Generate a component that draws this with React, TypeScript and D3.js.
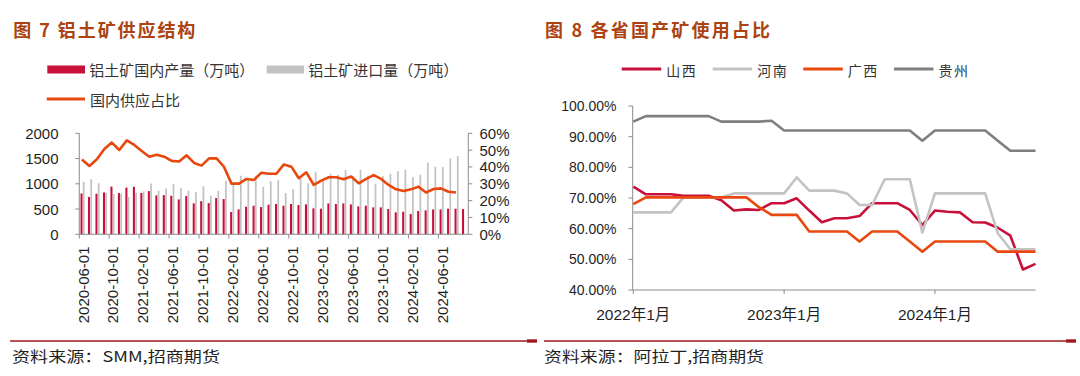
import React from 'react';
import * as d3 from 'd3';

// ---------- Left chart data (图7) ----------
const months = [
  '2020-06-01','2020-07-01','2020-08-01','2020-09-01','2020-10-01','2020-11-01','2020-12-01',
  '2021-01-01','2021-02-01','2021-03-01','2021-04-01','2021-05-01','2021-06-01','2021-07-01','2021-08-01','2021-09-01','2021-10-01','2021-11-01','2021-12-01',
  '2022-01-01','2022-02-01','2022-03-01','2022-04-01','2022-05-01','2022-06-01','2022-07-01','2022-08-01','2022-09-01','2022-10-01','2022-11-01','2022-12-01',
  '2023-01-01','2023-02-01','2023-03-01','2023-04-01','2023-05-01','2023-06-01','2023-07-01','2023-08-01','2023-09-01','2023-10-01','2023-11-01','2023-12-01',
  '2024-01-01','2024-02-01','2024-03-01','2024-04-01','2024-05-01','2024-06-01','2024-07-01','2024-08-01','2024-09-01'
];
const domesticOutput = [
  809,740,803,829,945,816,925,941,820,855,
  770,776,763,691,757,612,655,618,717,697,
  441,493,546,566,539,586,599,566,599,579,
  592,513,507,612,599,612,592,553,566,533,
  533,500,434,447,401,461,474,493,493,507,
  507,500
];
const importVolume = [
  1040,1090,1010,820,795,805,740,830,850,1005,
  865,910,1000,915,865,835,950,765,860,1060,
  1010,1160,1070,1150,940,1050,1070,815,895,1100,
  1010,1237,1090,1200,1180,1270,1150,1280,1160,1000,
  1150,1200,1250,1280,1130,1180,1420,1340,1330,1500,
  1550
];
const domesticShare = [
  44.4,40.6,44.6,50.7,54.5,50.1,55.8,53.1,49.5,46.1,
  47.3,46.1,43.6,43.2,46.9,42.4,40.8,45.1,45.1,40.0,
  30.1,30.1,32.9,32.3,36.6,36.0,36.0,41.5,40.2,33.3,
  36.8,29.3,31.9,33.9,33.9,32.7,34.3,30.3,32.9,35.2,
  32.9,29.3,26.7,25.7,26.7,28.3,24.8,26.9,27.3,25.3,
  24.8
];
const leftTickLabels = [
  '2020-06-01','2020-10-01','2021-02-01','2021-06-01','2021-10-01','2022-02-01','2022-06-01',
  '2022-10-01','2023-02-01','2023-06-01','2023-10-01','2024-02-01','2024-06-01'
];
const leftAxisTicks = [0, 500, 1000, 1500, 2000];
const rightAxisTicks = [0, 10, 20, 30, 40, 50, 60];

// ---------- Right chart data (图8) ----------
const months2 = [
  '2022-01','2022-02','2022-03','2022-04','2022-05','2022-06','2022-07','2022-08','2022-09','2022-10','2022-11','2022-12',
  '2023-01','2023-02','2023-03','2023-04','2023-05','2023-06','2023-07','2023-08','2023-09','2023-10','2023-11','2023-12',
  '2024-01','2024-02','2024-03','2024-04','2024-05','2024-06','2024-07','2024-08','2024-09'
];
const shanxi = [
  73.7,71.2,71.2,71.2,70.7,70.7,70.7,69.3,65.9,66.3,66.1,68.3,
  68.3,69.9,65.9,62.1,63.4,63.4,64.1,68.3,68.3,68.3,66.1,61.2,
  65.9,65.5,65.3,62.1,62.0,60.3,57.7,46.7,48.5
];
const henan = [
  65.3,65.3,65.3,65.3,70.2,70.2,70.2,70.2,71.5,71.5,71.5,71.5,
  71.5,76.7,72.4,72.4,72.4,71.5,67.7,67.7,76.1,76.1,76.1,58.7,
  71.5,71.5,71.5,71.5,71.5,58.5,53.3,53.3,53.3
];
const guangxi = [
  68.0,70.2,70.2,70.2,70.2,70.2,70.2,70.2,70.2,70.2,67.0,64.5,
  64.5,64.5,59.1,59.1,59.1,59.1,55.8,59.1,59.1,59.1,55.8,52.5,
  55.8,55.8,55.8,55.8,55.8,52.5,52.5,52.5,52.5
];
const guizhou = [
  94.9,96.7,96.7,96.7,96.7,96.7,96.7,94.9,94.9,94.9,94.9,95.2,
  92.0,92.0,92.0,92.0,92.0,92.0,92.0,92.0,92.0,92.0,92.0,88.7,
  92.0,92.0,92.0,92.0,92.0,88.7,85.4,85.4,85.4
];
const rightSeriesNames = ['山西', '河南', '广西', '贵州'];
const rightTickMonths = ['2022-01', '2023-01', '2024-01'];
const rightTickLabels = ['2022年1月', '2023年1月', '2024年1月'];
const rightYTicks = [40, 50, 60, 70, 80, 90, 100];

const C = {
  red: '#C8103A',
  grey: '#C3C3C3',
  orange: '#E8480E',
  dark: '#7F7F7F',
  axis: '#8C8C8C',
  title: '#AC4310',
  rule: '#9E1A1E',
  text: '#1F1F1F',
  legend: '#333333',
};

const NUM = '"Liberation Sans", Arial, "Noto Sans CJK SC", sans-serif';
const CJK = '"Noto Sans CJK SC", "Liberation Sans", sans-serif';

function LeftChart() {
  const x = d3.scaleBand<string>().domain(months).range([79.3, 468.3]).paddingInner(0).paddingOuter(0);
  const bw = x.bandwidth();
  const sub = d3.scaleBand<string>().domain(['d', 'i']).range([1.2, 5.6]).paddingInner(0.12);
  const yL = d3.scaleLinear().domain([0, 2000]).range([234.3, 133.3]);
  const yR = d3.scaleLinear().domain([0, 60]).range([234.3, 133.3]);
  const line = d3
    .line<number>()
    .x((_, i) => (x(months[i]) as number) + 2.6)
    .y((d) => yR(d));

  return (
    <g>
      {/* bars */}
      {domesticOutput.map((v, i) => (
        <rect
          key={'d' + i}
          x={(x(months[i]) as number) + (sub('d') as number)}
          width={sub.bandwidth()}
          y={yL(v)}
          height={yL(0) - yL(v)}
          fill={C.red}
        />
      ))}
      {importVolume.map((v, i) => (
        <rect
          key={'m' + i}
          x={(x(months[i]) as number) + (sub('i') as number)}
          width={sub.bandwidth() - 0.3}
          y={yL(v)}
          height={yL(0) - yL(v)}
          fill={C.grey}
        />
      ))}
      <path d={line(domesticShare) || ''} fill="none" stroke={C.orange} strokeWidth={2.6} strokeLinejoin="round" />

      {/* left axis */}
      <line x1={79.3} x2={79.3} y1={yL(2000)} y2={yL(0)} stroke={C.axis} strokeWidth={1} />
      {leftAxisTicks.map((t) => (
        <g key={'lt' + t}>
          <line x1={75.3} x2={79.3} y1={yL(t)} y2={yL(t)} stroke={C.axis} />
          <text x={58.5} y={yL(t)} textAnchor="end" dominantBaseline="central" fontFamily={NUM} fontSize={15} fill={C.text}>
            {t}
          </text>
        </g>
      ))}
      {/* right axis */}
      <line x1={468.3} x2={468.3} y1={yR(60)} y2={yR(0)} stroke={C.axis} strokeWidth={1} />
      {rightAxisTicks.map((t) => (
        <g key={'rt' + t}>
          <line x1={468.3} x2={472.3} y1={yR(t)} y2={yR(t)} stroke={C.axis} />
          <text x={479.5} y={yR(t)} dominantBaseline="central" fontFamily={NUM} fontSize={15} fill={C.text}>
            {t + '%'}
          </text>
        </g>
      ))}
      {/* x axis */}
      <line x1={79.3} x2={468.3} y1={234.3} y2={234.3} stroke={C.axis} strokeWidth={1} />
      {leftTickLabels.map((lab) => {
        const bx = x(lab) as number;
        return (
          <g key={lab}>
            <line x1={bx} x2={bx} y1={234.3} y2={238.5} stroke={C.axis} />
            <text
              transform={`translate(${bx + bw / 2},246.5) rotate(-90)`}
              textAnchor="end"
              dominantBaseline="central"
              fontFamily={NUM}
              fontSize={15}
              fill={C.text}
            >
              {lab}
            </text>
          </g>
        );
      })}

      {/* legend */}
      <rect x={47.3} y={65.5} width={37.7} height={8} fill={C.red} />
      <text x={89.3} y={69.5} dominantBaseline="central" fontFamily={CJK} fontSize={15} fill={C.legend}>
        铝土矿国内产量（万吨）
      </text>
      <rect x={266.7} y={65.5} width={37.3} height={8} fill={C.grey} />
      <text x={308.3} y={69.5} dominantBaseline="central" fontFamily={CJK} fontSize={15} fill={C.legend}>
        铝土矿进口量（万吨）
      </text>
      <line x1={46.7} x2={85} y1={99} y2={99} stroke={C.orange} strokeWidth={3} />
      <text x={90} y={99.5} dominantBaseline="central" fontFamily={CJK} fontSize={15} fill={C.legend}>
        国内供应占比
      </text>
    </g>
  );
}

function RightChart() {
  const x = d3.scaleLinear().domain([0, months2.length - 1]).range([633.3, 1035.5]);
  const y = d3.scaleLinear().domain([40, 100]).range([290, 106]);
  const line = d3
    .line<number>()
    .x((_, i) => x(i))
    .y((d) => y(d));
  const series = [
    { name: rightSeriesNames[0], data: shanxi, color: C.red },
    { name: rightSeriesNames[1], data: henan, color: C.grey },
    { name: rightSeriesNames[2], data: guangxi, color: C.orange },
    { name: rightSeriesNames[3], data: guizhou, color: C.dark },
  ];
  const legendX = [621.7, 712.7, 803.3, 894];
  return (
    <g>
      {series.map((s) => (
        <path key={s.name} d={line(s.data) || ''} fill="none" stroke={s.color} strokeWidth={2.6} strokeLinejoin="round" />
      ))}
      {/* y axis */}
      <line x1={632.7} x2={632.7} y1={y(100)} y2={y(40)} stroke={C.axis} />
      {rightYTicks.map((t) => (
        <g key={'y' + t}>
          <line x1={628.5} x2={632.7} y1={y(t)} y2={y(t)} stroke={C.axis} />
          <text x={616.5} y={y(t)} textAnchor="end" dominantBaseline="central" fontFamily={NUM} fontSize={14} fill={C.text}>
            {t.toFixed(2) + '%'}
          </text>
        </g>
      ))}
      {/* x axis */}
      <line x1={632.7} x2={1035.5} y1={290} y2={290} stroke={C.axis} />
      {rightTickMonths.map((m, k) => {
        const px = x(months2.indexOf(m));
        return (
          <g key={m}>
            <line x1={px} x2={px} y1={290} y2={294} stroke={C.axis} />
            <text x={px} y={314} textAnchor="middle" dominantBaseline="central" fontFamily={NUM} fontSize={15.5} fill={C.text}>
              {rightTickLabels[k]}
            </text>
          </g>
        );
      })}
      {/* legend */}
      {series.map((s, k) => (
        <g key={'lg' + s.name}>
          <line x1={legendX[k]} x2={legendX[k] + 39.5} y1={69} y2={69} stroke={s.color} strokeWidth={3} />
          <text x={legendX[k] + 44.5} y={69.5} dominantBaseline="central" fontFamily={CJK} fontSize={14} letterSpacing={1.5} fill={C.legend}>
            {s.name}
          </text>
        </g>
      ))}
    </g>
  );
}

export default function App() {
  return (
    <div style={{ position: 'absolute', left: 0, top: 0, width: 1080, height: 376, background: '#fff' }}>
      <svg width={1080} height={376} viewBox="0 0 1080 376" style={{ display: 'block' }}>
        <rect x={0} y={0} width={1080} height={376} fill="#ffffff" />
        {/* titles */}
        <text x={13.3} y={28.5} dominantBaseline="central" fontFamily={CJK} fontWeight="bold" fontSize={18} fill={C.title} textLength={182} lengthAdjust="spacing">
          图 7 铝土矿供应结构
        </text>
        <text x={545} y={28.5} dominantBaseline="central" fontFamily={CJK} fontWeight="bold" fontSize={18} fill={C.title} textLength={225} lengthAdjust="spacing">
          图 8 各省国产矿使用占比
        </text>
        <LeftChart />
        <RightChart />
        {/* bottom rules */}
        <line x1={10} x2={537} y1={341} y2={341} stroke={C.rule} strokeWidth={1.6} />
        <rect x={527} y={339.3} width={10} height={3.4} fill={C.rule} />
        <line x1={544} x2={1076} y1={341} y2={341} stroke={C.rule} strokeWidth={1.6} />
        <rect x={1066} y={339.3} width={10} height={3.4} fill={C.rule} />
        <text x={12} y={355} dominantBaseline="central" fontFamily={CJK} fontSize={15} fill={C.text} textLength={208} lengthAdjust="spacingAndGlyphs">
          资料来源：SMM,招商期货
        </text>
        <text x={544} y={355} dominantBaseline="central" fontFamily={CJK} fontSize={15} fill={C.text} textLength={220} lengthAdjust="spacingAndGlyphs">
          资料来源：阿拉丁,招商期货
        </text>
      </svg>
    </div>
  );
}
